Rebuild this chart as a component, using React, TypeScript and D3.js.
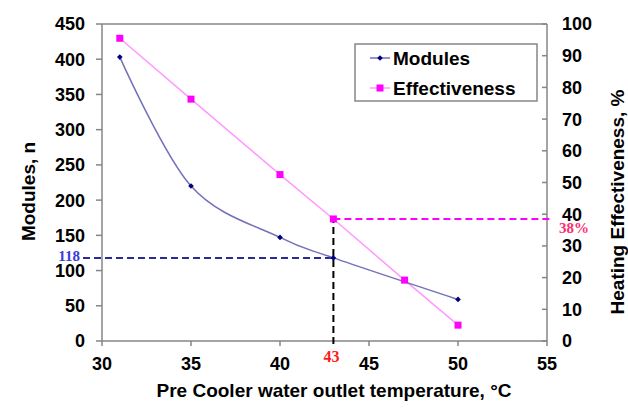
import React, { useEffect, useRef } from 'react'
import * as d3 from 'd3'

const tempModules = [31, 35, 40, 43, 50]
const modules = [403, 220, 147, 118, 59]
const tempEff = [31, 35, 40, 43, 47, 50]
const effectiveness = [95.5, 76.3, 52.5, 38.5, 19.2, 5]
const xTicks = [30, 35, 40, 45, 50, 55]
const leftTicks = [0, 50, 100, 150, 200, 250, 300, 350, 400, 450]
const rightTicks = [0, 10, 20, 30, 40, 50, 60, 70, 80, 90, 100]
const markTemp = 43
const markModules = 118
const markEff = 38.5
const markLabels = ['118', '43', '38%']
const legendNames = ['Modules', 'Effectiveness']

const W = 628
const H = 408
const sans = '"Liberation Sans", Arial, sans-serif'
const serif = '"Liberation Serif", "Times New Roman", serif'
const axisGray = '#868686'
const modLine = '#7171b9'
const modMark = '#000080'
const effLine = '#ff99ff'
const effMark = '#ff00ff'

export default function App() {
  const ref = useRef<SVGSVGElement>(null)

  useEffect(() => {
    if (!ref.current) return
    const svg = d3.select(ref.current)
    svg.selectAll('*').remove()

    const x = d3.scaleLinear().domain([30, 55]).range([102, 547])
    const yL = d3.scaleLinear().domain([0, 450]).range([341, 24])
    const yR = d3.scaleLinear().domain([0, 100]).range([341, 24])

    // plot frame top line
    svg.append('line')
      .attr('x1', x(30)).attr('x2', x(55))
      .attr('y1', yL(450)).attr('y2', yL(450))
      .attr('stroke', axisGray).attr('stroke-width', 1.5)

    // left axis
    const gL = svg.append('g')
    gL.append('line')
      .attr('x1', x(30)).attr('x2', x(30)).attr('y1', yL(0)).attr('y2', yL(450))
      .attr('stroke', axisGray).attr('stroke-width', 1.5)
    leftTicks.forEach(t => {
      gL.append('line')
        .attr('x1', x(30) - 6).attr('x2', x(30)).attr('y1', yL(t)).attr('y2', yL(t))
        .attr('stroke', axisGray).attr('stroke-width', 1.5)
      gL.append('text')
        .attr('x', 85).attr('y', yL(t)).attr('dy', '0.36em')
        .attr('text-anchor', 'end')
        .style('font', `bold 18px ${sans}`).style('fill', '#000')
        .text(t)
    })

    // right axis (ticks inside)
    const gR = svg.append('g')
    gR.append('line')
      .attr('x1', x(55)).attr('x2', x(55)).attr('y1', yR(0)).attr('y2', yR(100))
      .attr('stroke', axisGray).attr('stroke-width', 1.5)
    rightTicks.forEach(t => {
      gR.append('line')
        .attr('x1', x(55) - 5).attr('x2', x(55)).attr('y1', yR(t)).attr('y2', yR(t))
        .attr('stroke', axisGray).attr('stroke-width', 1.5)
      gR.append('text')
        .attr('x', 562).attr('y', yR(t)).attr('dy', '0.36em')
        .style('font', `bold 18px ${sans}`).style('fill', '#000')
        .text(t)
    })

    // bottom axis
    const gB = svg.append('g')
    gB.append('line')
      .attr('x1', x(30)).attr('x2', x(55)).attr('y1', yL(0)).attr('y2', yL(0))
      .attr('stroke', axisGray).attr('stroke-width', 1.5)
    xTicks.forEach(t => {
      gB.append('line')
        .attr('x1', x(t)).attr('x2', x(t)).attr('y1', yL(0)).attr('y2', yL(0) + 5)
        .attr('stroke', axisGray).attr('stroke-width', 1.5)
      gB.append('text')
        .attr('x', x(t)).attr('y', 370)
        .attr('text-anchor', 'middle')
        .style('font', `bold 18px ${sans}`).style('fill', '#000')
        .text(t)
    })

    // axis titles
    svg.append('text')
      .attr('transform', `translate(35, ${(yL(0) + yL(450)) / 2 + 9}) rotate(-90)`)
      .attr('text-anchor', 'middle')
      .style('font', `bold 19px ${sans}`)
      .text('Modules, n')
    svg.append('text')
      .attr('transform', `translate(624, 202) rotate(-90)`)
      .attr('text-anchor', 'middle')
      .style('font', `bold 19px ${sans}`)
      .text('Heating Effectiveness, %')
    svg.append('text')
      .attr('x', 334).attr('y', 397)
      .attr('text-anchor', 'middle')
      .style('font', `bold 19px ${sans}`)
      .text('Pre Cooler water outlet temperature, °C')

    // reference dashed lines
    svg.append('line')
      .attr('x1', 83).attr('x2', x(markTemp))
      .attr('y1', yL(markModules)).attr('y2', yL(markModules))
      .attr('stroke', '#2a2a99').attr('stroke-width', 2).attr('stroke-dasharray', '7,4')
    svg.append('line')
      .attr('x1', x(markTemp)).attr('x2', x(markTemp))
      .attr('y1', yL(0) + 3).attr('y2', yR(markEff) + 3)
      .attr('stroke', '#000').attr('stroke-width', 2).attr('stroke-dasharray', '7,4')
    svg.append('line')
      .attr('x1', x(markTemp)).attr('x2', 551)
      .attr('y1', yR(markEff)).attr('y2', yR(markEff))
      .attr('stroke', effMark).attr('stroke-width', 2).attr('stroke-dasharray', '7,4')

    // series: effectiveness
    const effData = tempEff.map((t, i) => [t, effectiveness[i]] as [number, number])
    svg.append('path')
      .attr('d', d3.line<[number, number]>().x(d => x(d[0])).y(d => yR(d[1]))(effData) as string)
      .attr('fill', 'none').attr('stroke', effLine).attr('stroke-width', 1.5)

    // series: modules (smoothed)
    const modData = tempModules.map((t, i) => [t, modules[i]] as [number, number])
    svg.append('path')
      .attr('d', d3.line<[number, number]>().x(d => x(d[0])).y(d => yL(d[1]))
        .curve(d3.curveCardinal.tension(0))(modData) as string)
      .attr('fill', 'none').attr('stroke', modLine).attr('stroke-width', 1.5)

    svg.append('g').selectAll('rect').data(effData).join('rect')
      .attr('x', d => x(d[0]) - 3.5).attr('y', d => yR(d[1]) - 3.5)
      .attr('width', 7).attr('height', 7).attr('fill', effMark)

    // small navy diamond = rotated square
    const diamond = d3.symbol().type(d3.symbolSquare).size(16)
    svg.append('g').selectAll('path').data(modData).join('path')
      .attr('d', diamond as any)
      .attr('transform', d => `translate(${x(d[0])},${yL(d[1])}) rotate(45)`)
      .attr('fill', modMark)

    // marker labels
    svg.append('text')
      .attr('x', 80).attr('y', yL(markModules) + 3)
      .attr('text-anchor', 'end')
      .style('font', `bold 15px ${serif}`).style('fill', '#3b3bd6')
      .text(markLabels[0])
    svg.append('text')
      .attr('x', x(markTemp) - 2).attr('y', 362)
      .attr('text-anchor', 'middle')
      .style('font', `bold 16px ${serif}`).style('fill', '#ff1a1a')
      .text(markLabels[1])
    svg.append('text')
      .attr('x', 559).attr('y', 233)
      .style('font', `bold 15px ${serif}`).style('fill', '#ff2d6f')
      .text(markLabels[2])

    // legend
    const lg = svg.append('g')
    lg.append('rect')
      .attr('x', 355).attr('y', 44).attr('width', 182).attr('height', 57)
      .attr('fill', '#fff').attr('stroke', axisGray).attr('stroke-width', 1.5)
    legendNames.forEach((name, i) => {
      const cy = 58 + i * 30
      lg.append('line')
        .attr('x1', 370).attr('x2', 390).attr('y1', cy).attr('y2', cy)
        .attr('stroke', i === 0 ? modLine : effLine).attr('stroke-width', 1.5)
      if (i === 0) {
        lg.append('path').attr('d', diamond as any)
          .attr('transform', `translate(380,${cy}) rotate(45)`).attr('fill', modMark)
      } else {
        lg.append('rect').attr('x', 376.5).attr('y', cy - 3.5)
          .attr('width', 7).attr('height', 7).attr('fill', effMark)
      }
      lg.append('text')
        .attr('x', 393).attr('y', cy).attr('dy', '0.36em')
        .style('font', `bold 19px ${sans}`)
        .text(name)
    })
  }, [])

  return (
    <svg
      ref={ref}
      width={W}
      height={H}
      style={{ position: 'absolute', left: 0, top: 0, background: '#fff' }}
    />
  )
}
